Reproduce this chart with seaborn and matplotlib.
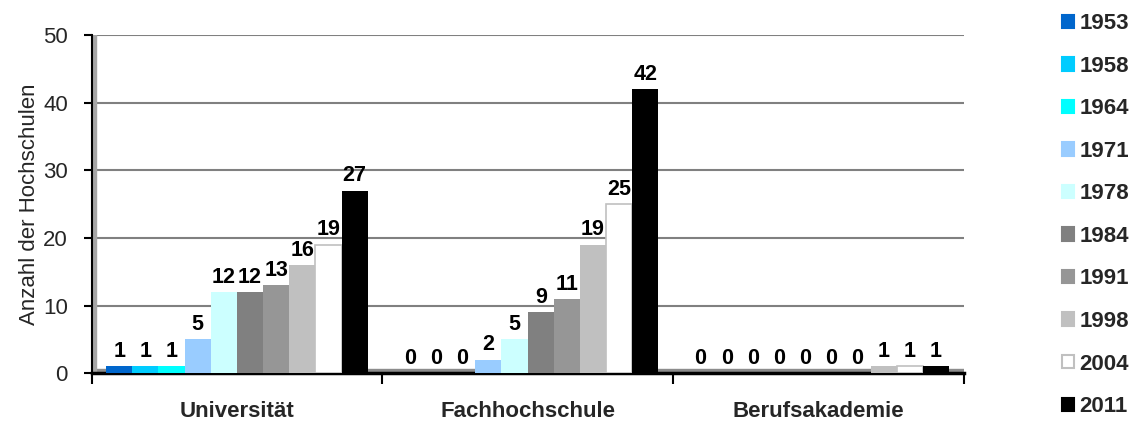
import matplotlib
matplotlib.use("Agg")
import matplotlib.pyplot as plt
from matplotlib.patches import Patch
import seaborn as sns
import pandas as pd

# Number of universities by type and year
categories = ["Universität", "Fachhochschule", "Berufsakademie"]
years = ["1953", "1958", "1964", "1971", "1978", "1984", "1991", "1998", "2004", "2011"]
universitaet = [1, 1, 1, 5, 12, 12, 13, 16, 19, 27]
fachhochschule = [0, 0, 0, 2, 5, 9, 11, 19, 25, 42]
berufsakademie = [0, 0, 0, 0, 0, 0, 0, 1, 1, 1]
colors = ["#0066CC", "#00CCFF", "#00FFFF", "#99CCFF", "#CCFFFF",
          "#808080", "#969696", "#C0C0C0", "#FFFFFF", "#000000"]

rows = []
for cat, vals in zip(categories, [universitaet, fachhochschule, berufsakademie]):
    for yr, v in zip(years, vals):
        rows.append({"Typ": cat, "Jahr": yr, "Anzahl": v})
df = pd.DataFrame(rows)

sns.set_style("white")
plt.rcParams["font.family"] = ["Liberation Sans", "DejaVu Sans"]

fig = plt.figure(figsize=(11.31, 4.26), dpi=100)
ax = fig.add_axes([0.081, 0.124, 0.771, 0.794])

palette = dict(zip(years, colors))
sns.barplot(data=df, x="Typ", y="Anzahl", hue="Jahr", order=categories,
            hue_order=years, palette=palette, width=0.9, saturation=1,
            edgecolor="none", legend=False, ax=ax, zorder=3)

# white 2004 bars get a light outline so they stay visible
for cont, yr in zip(ax.containers, years):
    if yr == "2004":
        for b in cont:
            if b.get_height() > 0:
                b.set_edgecolor("#C0C0C0")
                b.set_linewidth(1.2)
    ax.bar_label(cont, fmt="%d", padding=3, fontsize=15.5,
                 fontweight="bold", color="black", zorder=5)

ax.set_ylim(0, 50)
ax.set_xlim(-0.5, 2.5)
ax.set_yticks([0, 10, 20, 30, 40, 50])
ax.tick_params(axis="y", labelsize=16, direction="out", length=6,
               width=1.5, color="black", pad=11, left=True)
ax.yaxis.grid(True, color="#808080", linewidth=1.5, zorder=0)
ax.set_axisbelow(True)

# category labels at group centres, tick marks on group boundaries
ax.set_xticks([-0.5, 0.5, 1.5, 2.5])
ax.set_xticklabels([])
ax.set_xticks([0, 1, 2], minor=True)
ax.set_xticklabels(categories, minor=True, fontsize=16, fontweight="bold")
ax.tick_params(axis="x", which="major", direction="out", length=8,
               width=1.5, color="black", bottom=True)
ax.tick_params(axis="x", which="minor", length=0, pad=20)
ax.set_xlabel("")
ax.set_ylabel("Anzahl der Hochschulen", fontsize=16, labelpad=2)

# floor and side wall
ax.axhspan(0, 0.55, color="#8C8C8C", zorder=2)
ax.axvspan(-0.5, -0.485, color="#A6A6A6", zorder=2)

for side in ["top", "right"]:
    ax.spines[side].set_visible(False)
ax.spines["left"].set_color("black")
ax.spines["left"].set_linewidth(1.5)
ax.spines["bottom"].set_color("black")
ax.spines["bottom"].set_linewidth(2.5)

handles = []
for yr, c in zip(years, colors):
    ec = "#C0C0C0" if yr == "2004" else c
    handles.append(Patch(facecolor=c, edgecolor=ec, linewidth=1.5, label=yr))
leg = fig.legend(handles=handles, loc="upper left",
                 bbox_to_anchor=(0.931, 0.99), frameon=False,
                 prop={"size": 16, "weight": "bold"},
                 handlelength=0.55, handleheight=0.55, handletextpad=0.25,
                 labelspacing=0.97, borderaxespad=0)

fig.savefig("out.png", dpi=100)
